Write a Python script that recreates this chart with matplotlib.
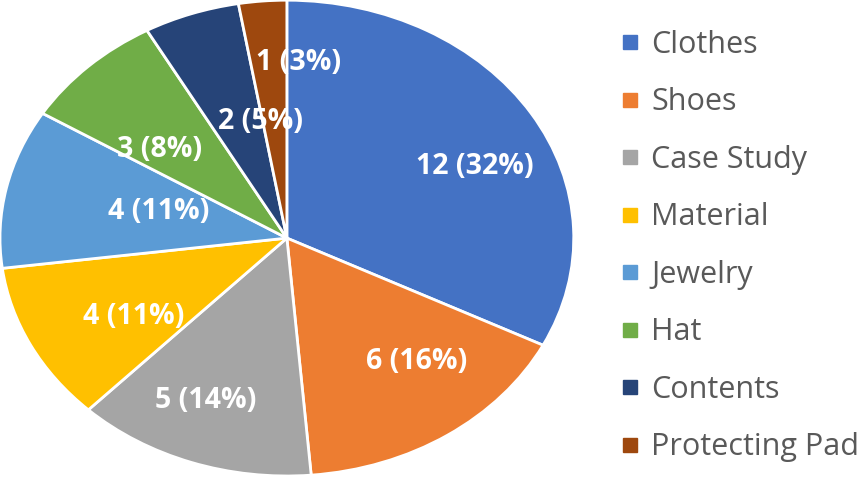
import matplotlib
matplotlib.use("Agg")
import matplotlib.pyplot as plt
import numpy as np
from matplotlib.lines import Line2D

categories = ["Clothes", "Shoes", "Case Study", "Material",
              "Jewelry", "Hat", "Contents", "Protecting Pad"]
counts = [12, 6, 5, 4, 4, 3, 2, 1]
colors = ["#4472C4", "#ED7D31", "#A5A5A5", "#FFC000",
          "#5B9BD5", "#70AD47", "#264478", "#9E480E"]

# where each value label sits inside its slice (radius, angle nudge in deg)
label_r = [0.72, 0.69, 0.74, 0.63, 0.46, 0.58, 0.50, 0.74]
label_shift = [-7, 7, -3, 5, -2, 6, -9, -8]

plt.rcParams["font.family"] = ["Open Sans", "DejaVu Sans"]

fig = plt.figure(figsize=(8.68, 4.86), dpi=100)
ax = fig.add_axes([0.0, 0.0206, 0.661, 0.979])

total = sum(counts)
wedges, _ = ax.pie(counts, colors=colors, startangle=90, counterclock=False,
                   wedgeprops=dict(edgecolor="white", linewidth=2))
ax.set_aspect("auto")
ax.set_xlim(-1, 1)
ax.set_ylim(-1, 1)

for w, n, r, s in zip(wedges, counts, label_r, label_shift):
    ang = np.deg2rad((w.theta1 + w.theta2) / 2 + s)
    pct = round(n / total * 100)
    ax.text(r * np.cos(ang), r * np.sin(ang), f"{n} ({pct}%)",
            ha="center", va="center", color="white",
            fontsize=20.5, fontweight="bold")

handles = [Line2D([], [], marker="s", linestyle="none", markersize=9.5,
                  markerfacecolor=c, markeredgecolor=c) for c in colors]
fig.legend(handles, categories, loc="upper left",
           bbox_to_anchor=(0.68, 0.995), frameon=False,
           fontsize=22, labelcolor="#595959", handletextpad=0.3,
           labelspacing=0.9, handlelength=0.8)

fig.savefig("out.png", dpi=100)
